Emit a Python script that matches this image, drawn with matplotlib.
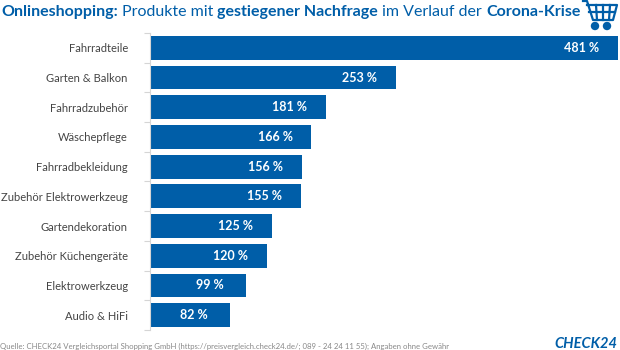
import matplotlib
matplotlib.use('Agg')
import matplotlib.pyplot as plt
from matplotlib.lines import Line2D
from matplotlib.patches import Circle

plt.rcParams['font.family'] = ['Lato', 'DejaVu Sans']

categories = ['Fahrradteile', 'Garten & Balkon', 'Fahrradzubehör', 'Wäschepflege',
              'Fahrradbekleidung', 'Zubehör Elektrowerkzeug', 'Gartendekoration',
              'Zubehör Küchengeräte', 'Elektrowerkzeug', 'Audio & HiFi']
values = [481, 253, 181, 166, 156, 155, 125, 120, 99, 82]
title_parts = [('Onlineshopping:', 'bold'), (' Produkte mit ', 'normal'),
               ('gestiegener Nachfrage', 'bold'), (' im Verlauf der ', 'normal'),
               ('Corona-Krise', 'bold')]
source = 'Quelle: CHECK24 Vergleichsportal Shopping GmbH (https://preisvergleich.check24.de/; 089 - 24 24 11 55); Angaben ohne Gewähr'

BLUE = '#005ea8'
W, H = 620, 350


def fx(x):
    return x / W


def fy(y):
    return 1 - y / H


fig = plt.figure(figsize=(6.2, 3.5), dpi=100)
ax = fig.add_axes([fx(150), fy(330), fx(470), 297 / H])

ypos = list(range(len(categories)))
ax.barh(ypos, values, height=0.8, color=BLUE)
ax.set_xlim(0, 470 / 0.972)
ax.set_ylim(9.5, -0.5)
ax.set_yticks(ypos)
ax.set_yticklabels(categories, fontsize=8.0, color='#444444')
ax.set_yticks([i - 0.5 for i in range(len(categories) + 1)], minor=True)
ax.tick_params(axis='y', which='major', length=0, pad=16)
ax.tick_params(axis='y', which='minor', length=4, color='#d5d5d5', width=0.8)
ax.xaxis.set_visible(False)
for s in ['top', 'right', 'bottom']:
    ax.spines[s].set_visible(False)
ax.spines['left'].set_color('#d5d5d5')
ax.spines['left'].set_linewidth(0.8)

# Werte in den Balken
for y, v in zip(ypos, values):
    ax.annotate(f'{v} %', (v, y), xytext=(-26, 0), textcoords='offset points',
                ha='center', va='center', color='white', fontsize=9, fontweight='bold')

# Titel aus mehreren Teilen zusammensetzen
fig.canvas.draw()
renderer = fig.canvas.get_renderer()
TITLE_SIZE = 11.5


def text_width(s, weight):
    # Leerzeichen am Rand werden sonst nicht mitgemessen
    a = fig.text(0, 0, '|' + s + '|', fontsize=TITLE_SIZE, fontweight=weight)
    b = fig.text(0, 0, '||', fontsize=TITLE_SIZE, fontweight=weight)
    w = a.get_window_extent(renderer).width - b.get_window_extent(renderer).width
    a.remove()
    b.remove()
    return w


x = 1.0
for part, weight in title_parts:
    fig.text(fx(x + text_width(part[:len(part) - len(part.lstrip())], weight)), fy(16),
             part.strip(), fontsize=TITLE_SIZE, fontweight=weight, color=BLUE,
             ha='left', va='baseline')
    x += text_width(part, weight)

fig.text(fx(0), fy(348.5), source, fontsize=5.6, color='#888888', ha='left', va='baseline')
fig.text(fx(617), fy(347.5), 'CHECK24', fontsize=10.5, color=BLUE, ha='right', va='baseline',
         fontweight='bold', style='italic')

# Warenkorb
cart = [
    ([583, 587, 593, 613, 617, 587], [1, 1, 20, 20, 5, 5]),
    ([589, 615], [12, 12]),
    ([596, 597], [5, 20]),
    ([603, 603], [5, 20]),
    ([610, 609], [5, 20]),
]
for xs, ys in cart:
    fig.add_artist(Line2D([fx(a) for a in xs], [fy(b) for b in ys], color=BLUE, lw=1.6,
                          transform=fig.transFigure))
for cx in [595, 607]:
    fig.add_artist(Circle((cx, H - 26), 3.5, color=BLUE, transform=None))

fig.savefig('out.png', dpi=100)
